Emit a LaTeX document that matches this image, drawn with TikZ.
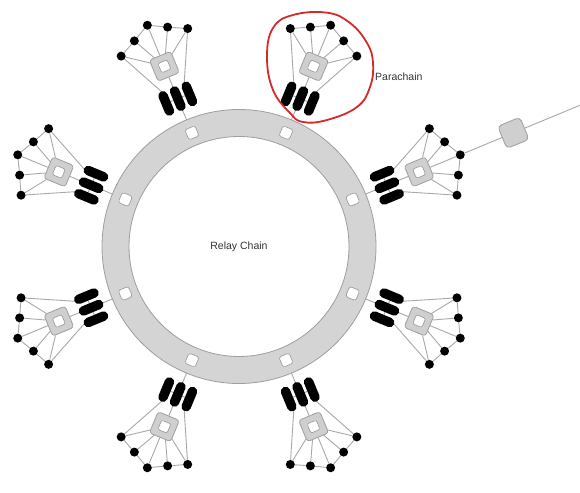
\documentclass[tikz,border=0pt]{standalone}
\usepackage{fontspec}
\setmainfont{Liberation Sans}
\pgfdeclarelayer{bg}
\pgfsetlayers{bg,main}
\definecolor{ringfill}{HTML}{D4D4D4}
\definecolor{ringdraw}{HTML}{9E9E9E}
\definecolor{linec}{HTML}{A8A8A8}
\definecolor{hubfill}{HTML}{CFCFCF}
\definecolor{redc}{HTML}{D42A2A}
\definecolor{txt}{HTML}{333333}
\tikzset{
  conn/.style={draw=linec, line width=0.9pt},
  collator/.style={circle, fill=black, inner sep=0pt, minimum size=9pt},
  pill/.style={rectangle, rounded corners=4.7pt, fill=black, inner sep=0pt, minimum width=9.5pt, minimum height=26pt, transform shape},
  hub/.style={rectangle, rounded corners=3pt, fill=hubfill, draw=ringdraw, line width=0.8pt, inner sep=0pt, minimum size=23pt, transform shape},
  hole/.style={rectangle, rounded corners=2pt, fill=white, draw=ringdraw, line width=0.7pt, inner sep=0pt, minimum size=10pt, transform shape},
  slot/.style={rectangle, rounded corners=2.5pt, fill=white, draw=ringdraw, line width=0.7pt, inner sep=0pt, minimum size=11pt, transform shape},
  bridge/.style={rectangle, rounded corners=4pt, fill=hubfill, draw=ringdraw, line width=0.8pt, inner sep=0pt, minimum size=24pt, transform shape},
  lbl/.style={font=\fontsize{10.5}{12}\selectfont, text=txt, inner sep=0pt}
}
\begin{document}
\begin{tikzpicture}[x=1pt,y=1pt]
\useasboundingbox (0,0) rectangle (580,492);
\coordinate (C) at (239,245.5);
% relay chain ring
\fill[ringfill, even odd rule] (C) circle (137) (C) circle (110);
\draw[ringdraw, line width=0.8pt] (C) circle (137) (C) circle (110);
\node[lbl] (relay) at (C) {Relay Chain};
% parachains
\foreach \a [count=\i] in {22.5,67.5,112.5,157.5,202.5,247.5,292.5,337.5} {
  \begin{scope}[shift={(C)}, rotate=\a-90]
    \node[slot] (s\i) at (0,123) {};
    \node[pill] (p\i-a) at (-12.5,160) {};
    \node[pill] (p\i-b) at (0,160) {};
    \node[pill] (p\i-c) at (12.5,160) {};
    \node[hub] (h\i) at (0,195) {};
    \node[hole] (h\i-in) at (0,195) {};
    \node[collator] (n\i-1) at (-36,221) {};
    \node[collator] (n\i-2) at (-18,230) {};
    \node[collator] (n\i-3) at (0,239.5) {};
    \node[collator] (n\i-4) at (18,230) {};
    \node[collator] (n\i-5) at (36,221) {};
  \end{scope}
  \begin{pgfonlayer}{bg}
    \draw[conn] (s\i) -- (h\i);
    \draw[conn] (p\i-a) -- (p\i-c);
    \draw[conn] (n\i-1) -- (n\i-2) -- (n\i-3) -- (n\i-4) -- (n\i-5);
    \foreach \k in {1,...,5} {\draw[conn] (n\i-\k) -- (h\i);}
    \draw[conn] (n\i-1) -- (p\i-a.north);
    \draw[conn] (n\i-5) -- (p\i-c.north);
  \end{pgfonlayer}
}
% bridge on the right parachain
\begin{scope}[shift={(C)}, rotate=-67.5]
  \node[bridge] (br) at (0,297) {};
  \coordinate (brend) at (0,369.5);
\end{scope}
\draw[conn] (n1-3) -- (br);
\draw[conn] (br) -- (brend);
% highlight
\draw[redc, line width=1.8pt] plot[smooth cycle, tension=0.7] coordinates {
  (273,464) (293,477) (327,479.3) (350,469) (367,449) (373,429) (370,405)
  (357,385) (327,372) (303,370) (290,379) (273,402) (267,435)};
\node[lbl, anchor=west] (para) at (375,415) {Parachain};
\end{tikzpicture}
\end{document}
